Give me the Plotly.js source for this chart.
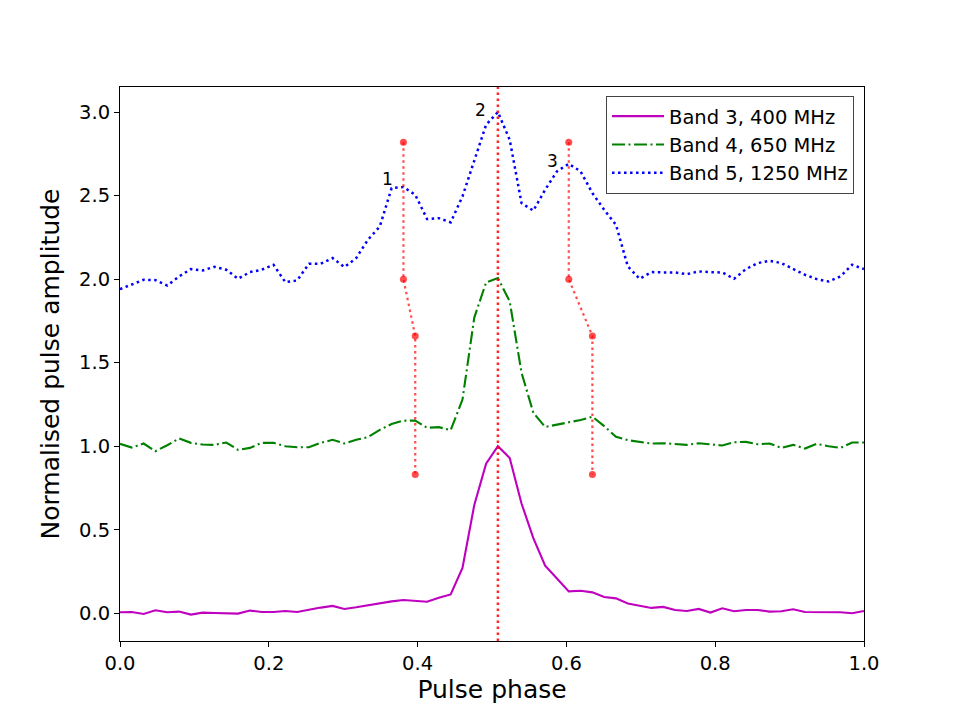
<!DOCTYPE html>
<html>
<head>
<meta charset="utf-8">
<script src="https://cdn.plot.ly/plotly-3.0.1.min.js"></script>
<style>
  html, body { margin: 0; padding: 0; background: #fff; }
  #chart { width: 960px; height: 720px; }
</style>
</head>
<body>
<div id="chart"></div>
<script>
// Pulse profiles in three bands, 64 phase bins from 0 to 1.
const NBINS = 64;
const phase = Array.from({ length: NBINS }, (_, i) => i / (NBINS - 1));

const band3 = [
  0.006, 0.008, -0.004, 0.018, 0.006, 0.010, -0.008, 0.004, 0.002, 0.000,
  -0.002, 0.016, 0.008, 0.008, 0.014, 0.008, 0.022, 0.034, 0.044, 0.026,
  0.036, 0.048, 0.057, 0.071, 0.079, 0.075, 0.069, 0.093, 0.113, 0.271,
  0.648, 0.895, 1.000, 0.929, 0.657, 0.450, 0.285, 0.208, 0.131, 0.135,
  0.125, 0.097, 0.089, 0.059, 0.044, 0.032, 0.038, 0.020, 0.014, 0.026,
  0.004, 0.030, 0.012, 0.020, 0.020, 0.010, 0.012, 0.024, 0.008, 0.008,
  0.008, 0.006, 0.000, 0.014,
];

const band4 = [
  1.014, 0.992, 1.016, 0.970, 1.006, 1.046, 1.020, 1.010, 1.008, 1.022,
  0.978, 0.990, 1.020, 1.020, 1.000, 0.994, 0.994, 1.020, 1.038, 1.016,
  1.038, 1.054, 1.098, 1.133, 1.153, 1.153, 1.110, 1.114, 1.096, 1.279,
  1.770, 1.980, 2.006, 1.867, 1.440, 1.200, 1.115, 1.127, 1.143, 1.157,
  1.177, 1.120, 1.056, 1.036, 1.024, 1.016, 1.018, 1.014, 1.008, 1.018,
  1.010, 1.004, 1.024, 1.026, 1.012, 1.016, 0.990, 1.008, 0.986, 1.014,
  1.000, 0.990, 1.022, 1.022,
];

const band5 = [
  1.940, 1.966, 1.996, 1.994, 1.962, 2.016, 2.060, 2.052, 2.074, 2.056,
  2.002, 2.042, 2.056, 2.086, 1.982, 1.992, 2.092, 2.092, 2.126, 2.072,
  2.126, 2.236, 2.315, 2.545, 2.551, 2.505, 2.360, 2.365, 2.340, 2.495,
  2.715, 2.924, 3.000, 2.834, 2.455, 2.410, 2.535, 2.645, 2.690, 2.645,
  2.515, 2.415, 2.325, 2.076, 2.002, 2.042, 2.040, 2.040, 2.030, 2.046,
  2.042, 2.040, 2.002, 2.060, 2.096, 2.110, 2.096, 2.060, 2.026, 2.000,
  1.986, 2.016, 2.086, 2.060,
];

// Component tracks (leading / trailing) across bands
const leadX = [24 / 63, 24 / 63, 25 / 63, 25 / 63];
const leadY = [2.82, 2.0, 1.66, 0.83];
const trailX = [38 / 63, 38 / 63, 40 / 63, 40 / 63];
const trailY = [2.82, 2.0, 1.66, 0.83];

// Peak phase of the main component
const peakPhase = 32 / 63;

// Component labels
const labelText = ["1", "2", "3"];
const labelX = [0.359, 0.485, 0.581];
const labelY = [2.60, 3.01, 2.71];

const FONT = "DejaVu Sans, sans-serif";
const RED_A = "rgba(255,0,0,0.7)";

const traces = [
  {
    type: "scatter", mode: "lines", name: "Band 3, 400 MHz",
    x: phase, y: band3,
    line: { color: "#bf00bf", width: 2.1 },
  },
  {
    type: "scatter", mode: "lines", name: "Band 4, 650 MHz",
    x: phase, y: band4,
    line: { color: "#008000", width: 2.1, dash: "13px,3.5px,2px,3.5px" },
  },
  {
    type: "scatter", mode: "lines", name: "Band 5, 1250 MHz",
    x: phase, y: band5,
    line: { color: "#0000ff", width: 2.5, dash: "2.5px,3.5px" },
  },
  {
    type: "scatter", mode: "lines+markers", showlegend: false,
    x: leadX, y: leadY,
    line: { color: RED_A, width: 2.2, dash: "2.5px,3.5px" },
    marker: { color: RED_A, size: 7 },
  },
  {
    type: "scatter", mode: "lines+markers", showlegend: false,
    x: trailX, y: trailY,
    line: { color: RED_A, width: 2.2, dash: "2.5px,3.5px" },
    marker: { color: RED_A, size: 7 },
  },
];

const layout = {
  width: 960, height: 720,
  paper_bgcolor: "#fff", plot_bgcolor: "#fff",
  font: { family: FONT, size: 19.5, color: "#000" },
  margin: { l: 120, r: 96, t: 87, b: 79, pad: 0 },
  showlegend: true,
  legend: {
    x: 0.9866, xanchor: "right",
    y: 0.9838, yanchor: "top",
    bgcolor: "rgba(255,255,255,0.8)",
    bordercolor: "#444", borderwidth: 1,
    font: { family: FONT, size: 19.5 },
    itemwidth: 52,
    tracegroupgap: 0,
  },
  xaxis: {
    range: [0, 1],
    tickvals: [0, 0.2, 0.4, 0.6, 0.8, 1.0],
    tickformat: ".1f",
    ticks: "outside", ticklen: 5, tickwidth: 1, tickcolor: "#000",
    showline: true, linecolor: "#000", linewidth: 1, mirror: true,
    showgrid: false, zeroline: false,
    tickfont: { family: FONT, size: 19.5 },
    title: { text: "Pulse phase", font: { family: FONT, size: 25 }, standoff: 6 },
  },
  yaxis: {
    range: [-0.166, 3.15],
    tickvals: [0, 0.5, 1.0, 1.5, 2.0, 2.5, 3.0],
    tickformat: ".1f",
    ticks: "outside", ticklen: 5, tickwidth: 1, tickcolor: "#000",
    showline: true, linecolor: "#000", linewidth: 1, mirror: true,
    showgrid: false, zeroline: false,
    tickfont: { family: FONT, size: 19.5 },
    title: { text: "Normalised pulse amplitude", font: { family: FONT, size: 25 }, standoff: 12 },
  },
  shapes: [
    {
      type: "line", xref: "x", yref: "paper",
      x0: peakPhase, x1: peakPhase, y0: 0, y1: 1,
      line: { color: "rgba(255,0,0,0.85)", width: 2.5, dash: "2.5px,3.5px" },
    },
  ],
  annotations: labelText.map((t, i) => ({
    x: labelX[i], y: labelY[i], xref: "x", yref: "y",
    text: t, showarrow: false,
    font: { family: FONT, size: 17, color: "#000" },
  })),
};

Plotly.newPlot("chart", traces, layout, { displayModeBar: false, staticPlot: true });
</script>
</body>
</html>
